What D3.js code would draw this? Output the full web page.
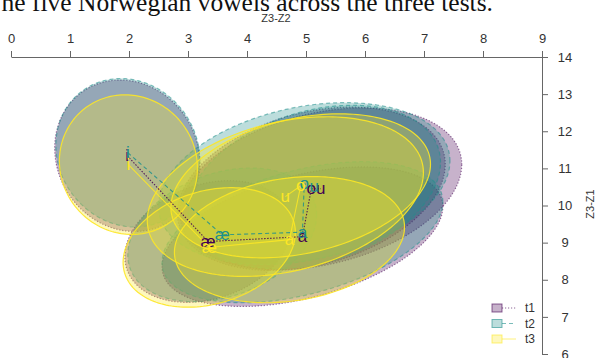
<!DOCTYPE html>
<html><head><meta charset="utf-8">
<script src="https://cdn.jsdelivr.net/npm/d3@7"></script>
<style>
html,body{margin:0;padding:0;background:#fff;overflow:hidden}
svg{display:block}
</style></head>
<body>
<svg id="c" width="603" height="358"></svg>
<script>
// ---- data ----
const vowels = ["i", "æ", "a", "o", "u"];
const tests = ["t1", "t2", "t3"];
const xTicks = [0,1,2,3,4,5,6,7,8,9];
const yTicks = [6,7,8,9,10,11,12,13,14];
// means (Z3-Z2, Z3-Z1)
const meanX_t1 = [1.97, 3.34, 4.94, 5.09, 5.25];
const meanY_t1 = [11.34, 9.03, 9.16, 10.45, 10.45];
const meanX_t2 = [1.98, 3.58, 4.94, 4.97, 5.14];
const meanY_t2 = [11.42, 9.21, 9.28, 10.59, 10.50];
const meanX_t3 = [1.99, 3.36, 4.72, 4.91, 4.65];
const meanY_t3 = [11.10, 8.87, 9.08, 10.53, 10.24];
// ellipse half-widths and correlation
const sdX_t1 = [1.23, 1.41, 2.38, 2.27, 2.39];
const sdY_t1 = [2.04, 1.64, 1.88, 2.20, 2.18];
const rho_t1 = [-0.1, 0.25, 0.43, 0.30, 0.30];
const sdX_t2 = [1.22, 1.60, 2.38, 2.47, 2.14];
const sdY_t2 = [2.00, 1.80, 1.90, 2.18, 2.20];
const rho_t2 = [-0.1, 0.30, 0.43, 0.28, 0.30];
const sdX_t3 = [1.17, 1.46, 1.95, 2.20, 2.34];
const sdY_t3 = [1.88, 1.61, 1.70, 1.94, 2.15];
const rho_t3 = [-0.05, 0.25, 0.20, 0.30, 0.30];
const caption = "The five Norwegian vowels across the three tests.";

const groups = [
  {name:"t1", mx:meanX_t1, my:meanY_t1, sx:sdX_t1, sy:sdY_t1, r:rho_t1},
  {name:"t2", mx:meanX_t2, my:meanY_t2, sx:sdX_t2, sy:sdY_t2, r:rho_t2},
  {name:"t3", mx:meanX_t3, my:meanY_t3, sx:sdX_t3, sy:sdY_t3, r:rho_t3}
];
const colors = {t1:"#440154", t2:"#21908C", t3:"#FDE725"};
const dashes = {t1:"1.2,1.8", t2:"4,3", t3:null};

const svg = d3.select("#c");
const x = d3.scaleLinear().domain([0, 9]).range([11, 542]);
const y = d3.scaleLinear().domain([6, 14]).range([354, 57]);

// caption (clipped at top)
svg.append("text").attr("x", 493).attr("y", 11).attr("text-anchor","end")
  .attr("font-family","Liberation Serif, Times New Roman, serif").attr("font-size", 25.5)
  .attr("fill","#111").text(caption);

// ellipses
const line = d3.line().x(d => x(d[0])).y(d => y(d[1])).curve(d3.curveLinearClosed);
function ellipsePts(cx, cy, rx, ry, r) {
  const s = Math.sqrt(1 - r*r), pts = [];
  for (let k = 0; k < 180; k++) {
    const t = 2*Math.PI*k/180;
    pts.push([cx + rx*Math.cos(t), cy + ry*(r*Math.cos(t) + s*Math.sin(t))]);
  }
  return pts;
}
const gE = svg.append("g");
groups.forEach(g => {
  vowels.forEach((v, i) => {
    gE.append("path")
      .attr("d", line(ellipsePts(g.mx[i], g.my[i], g.sx[i], g.sy[i], g.r[i])))
      .attr("fill", colors[g.name]).attr("fill-opacity", 0.3)
      .attr("stroke", colors[g.name]).attr("stroke-opacity", g.name==="t3"?0.9:0.55)
      .attr("stroke-width", 1.2)
      .attr("stroke-dasharray", dashes[g.name]);
  });
});

// vowel paths
const pl = d3.line().x(d => x(d[0])).y(d => y(d[1]));
groups.forEach(g => {
  svg.append("path").attr("d", pl(vowels.map((v,i)=>[g.mx[i], g.my[i]])))
    .attr("fill","none").attr("stroke", colors[g.name]).attr("stroke-width", 1.1)
    .attr("stroke-opacity", 0.85)
    .attr("stroke-dasharray", g.name==="t1" ? "1.5,1.5" : dashes[g.name]);
});

// labels
groups.forEach(g => {
  vowels.forEach((v, i) => {
    svg.append("text").attr("x", x(g.mx[i])).attr("y", y(g.my[i]))
      .attr("text-anchor","middle").attr("dominant-baseline","central")
      .attr("font-family","Liberation Sans, Arial, sans-serif").attr("font-size", 17)
      .attr("fill", colors[g.name]).text(v);
  });
});

// axes
const axFont = "Liberation Sans, Arial, sans-serif";
const xa = svg.append("g").attr("transform","translate(0,57)")
  .call(d3.axisTop(x).tickValues(xTicks).tickSize(6).tickSizeOuter(0).tickPadding(8));
const ya = svg.append("g").attr("transform","translate(542,0)")
  .call(d3.axisRight(y).tickValues(yTicks).tickSize(6).tickSizeOuter(0).tickPadding(8));
[xa, ya].forEach(a => {
  a.selectAll("path,line").attr("stroke","#666");
  a.selectAll("text").attr("font-family", axFont).attr("font-size", 13).attr("fill","#333");
});
ya.selectAll("text").attr("text-anchor","middle").attr("x", 23);

svg.append("text").attr("x", 276).attr("y", 22).attr("text-anchor","middle")
  .attr("font-family", axFont).attr("font-size", 11).attr("fill","#333").text("Z3-Z2");
svg.append("text").attr("transform","translate(594,204) rotate(-90)").attr("text-anchor","middle")
  .attr("font-family", axFont).attr("font-size", 11).attr("fill","#333").text("Z3-Z1");

// legend
const lg = svg.append("g");
tests.forEach((t, k) => {
  const yy = 308 + k*15.5;
  lg.append("rect").attr("x", 492).attr("y", yy-4).attr("width", 10).attr("height", 8)
    .attr("fill", colors[t]).attr("fill-opacity", 0.3)
    .attr("stroke", colors[t]).attr("stroke-opacity", 0.6);
  lg.append("line").attr("x1", 502).attr("x2", 516).attr("y1", yy).attr("y2", yy)
    .attr("stroke", colors[t]).attr("stroke-opacity", 0.6).attr("stroke-dasharray", dashes[t]);
  lg.append("text").attr("x", 525).attr("y", yy).attr("dominant-baseline","central")
    .attr("font-family", axFont).attr("font-size", 12).attr("fill","#333").text(t);
});
</script>
</body></html>
